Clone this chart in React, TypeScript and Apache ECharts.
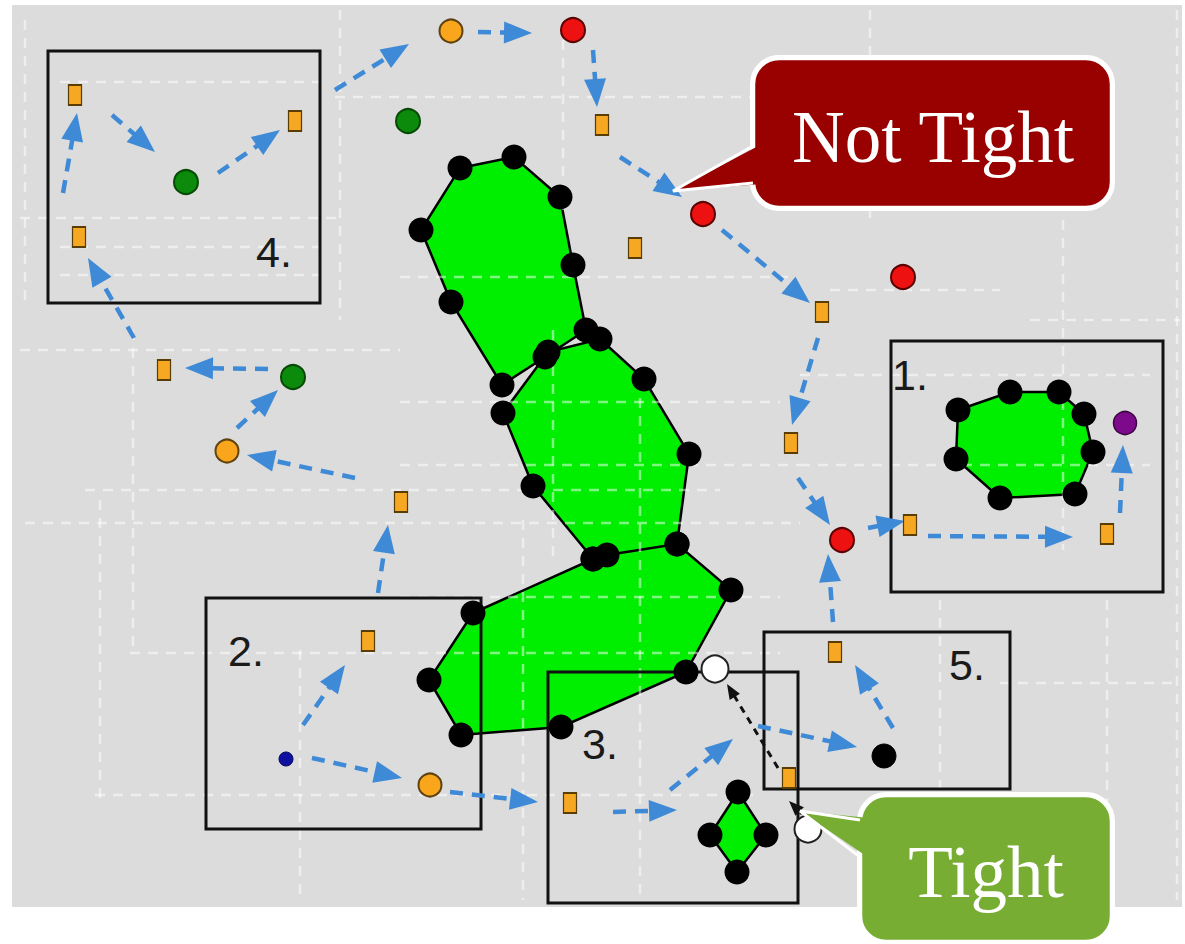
import React, { useEffect, useRef } from 'react';
import * as echarts from 'echarts';

// ---------------- data ----------------
const orangeSquares = [
  [75, 95], [79, 237], [295, 121], [602, 125], [635, 248], [822, 312], [791, 443],
  [910, 525], [1107, 534], [164, 370], [401, 502], [368, 641], [570, 803], [835, 652], [789, 778],
];
const orangeCircles = [[451, 31], [227, 451], [430, 785]];
const redCircles = [[573, 30], [703, 214], [903, 277], [842, 540]];
const greenCircles = [[408, 121], [186, 182], [293, 377]];
const purpleCircles = [[1125, 423]];
const blueDots = [[286, 759]];
const blackNodes = [[884, 756]];
const whiteNodes = [[715, 669], [808, 829]];

const polyA = [[460, 168], [514, 157], [560, 197], [573, 265], [586, 330], [545, 357], [502, 385], [451, 302], [421, 230]];
const polyB = [[600, 339], [644, 379], [689, 454], [677, 544], [593, 559], [533, 486], [503, 413], [548, 352]];
const polyC = [[473, 613], [593, 559], [607, 555], [677, 544], [731, 590], [686, 672], [561, 727], [461, 735], [429, 680]];
const polyD = [[958, 410], [1010, 392], [1059, 392], [1084, 414], [1093, 452], [1075, 494], [1000, 498], [956, 459]];
const polyE = [[738, 792], [766, 835], [737, 872], [710, 835]];
const polygons = [polyA, polyB, polyC, polyD, polyE];

const boxes = [
  [891, 341, 1163, 592],
  [206, 598, 481, 829],
  [548, 672, 798, 903],
  [48, 51, 320, 303],
  [764, 632, 1010, 789],
];
const boxLabels = ['1.', '2.', '3.', '4.', '5.'];
const boxLabelPos = [[892, 375], [228, 651], [582, 744], [256, 252], [949, 665]];

// flow edges: [fromX, fromY, arrowTipX, arrowTipY]
const flowEdges = [
  [63, 193, 77, 113],
  [112, 115, 155, 152],
  [218, 173, 280, 130],
  [335, 90, 409, 44],
  [478, 32, 532, 33],
  [593, 50, 597, 107],
  [620, 157, 682, 197],
  [722, 230, 810, 303],
  [818, 338, 792, 425],
  [798, 478, 830, 525],
  [868, 528, 905, 521],
  [928, 536, 1073, 537],
  [1120, 513, 1123, 445],
  [833, 622, 828, 554],
  [893, 728, 855, 665],
  [758, 726, 857, 747],
  [613, 812, 677, 810],
  [670, 790, 733, 739],
  [303, 725, 345, 665],
  [312, 758, 402, 778],
  [450, 792, 538, 802],
  [378, 593, 388, 525],
  [355, 478, 247, 455],
  [237, 428, 278, 390],
  [268, 369, 185, 368],
  [134, 338, 88, 258],
];
const tightEdges = [
  [778, 768, 727, 684],
  [802, 814, 789, 801],
];

// background dashed grid segments [x1, y1, x2, y2]
const gridLines = [
  [60, 82, 320, 82], [335, 97, 760, 97], [20, 218, 340, 218], [60, 247, 320, 247],
  [60, 275, 320, 275], [400, 277, 790, 277], [830, 290, 1000, 290], [20, 350, 400, 350],
  [400, 402, 780, 402], [400, 465, 800, 465], [85, 490, 720, 490], [25, 523, 800, 523],
  [800, 375, 1150, 375], [800, 465, 1150, 465], [400, 597, 780, 597], [130, 653, 780, 653],
  [95, 795, 760, 795], [1000, 683, 1180, 683], [1030, 320, 1180, 320],
  [25, 20, 25, 300], [340, 10, 340, 320], [133, 330, 133, 650], [100, 500, 100, 800],
  [300, 650, 300, 900], [563, 40, 563, 210], [553, 330, 553, 560], [523, 520, 523, 900],
  [640, 380, 640, 900], [870, 10, 870, 220], [1063, 220, 1063, 550], [1107, 600, 1107, 900],
  [1177, 10, 1177, 900], [940, 600, 940, 900],
];

// ---------------- helpers ----------------
const coordEncode = { x: [0, 2], y: [1, 3] };

function makeEdgeRender(color: string, width: number, dash: number[], headLen: number, headW: number) {
  return (params: any, api: any) => {
    const p1 = api.coord([api.value(0), api.value(1)]);
    const p2 = api.coord([api.value(2), api.value(3)]);
    const dx = p2[0] - p1[0];
    const dy = p2[1] - p1[1];
    const len = Math.hypot(dx, dy) || 1;
    const ux = dx / len;
    const uy = dy / len;
    const bx = p2[0] - ux * headLen;
    const by = p2[1] - uy * headLen;
    const nx = -uy;
    const ny = ux;
    return {
      type: 'group',
      children: [
        {
          type: 'line',
          shape: { x1: p1[0], y1: p1[1], x2: bx + ux * 2, y2: by + uy * 2 },
          style: { stroke: color, lineWidth: width, lineDash: dash, fill: null },
        },
        {
          type: 'polygon',
          shape: {
            points: [
              [p2[0], p2[1]],
              [bx + (nx * headW) / 2, by + (ny * headW) / 2],
              [bx - (nx * headW) / 2, by - (ny * headW) / 2],
            ],
          },
          style: { fill: color },
        },
      ],
    };
  };
}

function nodeSeries(data: number[][], symbol: string, size: any, color: string, border: string, bw: number) {
  return {
    type: 'scatter',
    data,
    symbol,
    symbolSize: size,
    silent: true,
    z: 6,
    itemStyle: { color, borderColor: border, borderWidth: bw, opacity: 1 },
  };
}

function calloutGraphic(
  rect: number[], tail: number[][], fill: string, text: string, textPos: number[]
) {
  const [x, y, w, h] = rect;
  const tailFill = [
    [tail[0][0] + 9, tail[0][1] - 2],
    tail[1],
    [tail[2][0] + 9, tail[2][1] + 1],
  ];
  return [
    { type: 'rect', z: 100, shape: { x, y, width: w, height: h, r: 26 }, style: { fill, stroke: '#ffffff', lineWidth: 6 } },
    { type: 'rect', z: 101, shape: { x: x + 3, y: y + 3, width: w - 6, height: h - 6, r: 23 }, style: { fill: 'none', stroke: fill, lineWidth: 1.5 } },
    { type: 'polygon', z: 102, shape: { points: tailFill }, style: { fill } },
    { type: 'polyline', z: 103, shape: { points: tail }, style: { stroke: '#ffffff', lineWidth: 3, fill: 'none' } },
    {
      type: 'text', z: 104,
      style: {
        text, x: textPos[0], y: textPos[1], fill: '#ffffff', fontSize: 73,
        fontFamily: '"Liberation Serif", "Times New Roman", serif', align: 'center', verticalAlign: 'middle',
      },
    },
  ];
}

export default function App() {
  const ref = useRef<HTMLDivElement>(null);

  useEffect(() => {
    if (!ref.current) return;
    const chart = echarts.init(ref.current, null, { renderer: 'svg' });

    const vertexDots: number[][] = [];
    polygons.forEach((p) => p.forEach((pt) => vertexDots.push(pt)));

    const option: any = {
      animation: false,
      backgroundColor: '#ffffff',
      grid: {
        show: true, left: 12, top: 5, width: 1170, height: 902,
        backgroundColor: '#dcdcdc', borderWidth: 0,
      },
      xAxis: { type: 'value', min: 12, max: 1182, show: false },
      yAxis: { type: 'value', min: 5, max: 907, inverse: true, show: false },
      series: [
        {
          type: 'custom', name: 'regions', z: 2, silent: true, clip: false,
          data: polygons.map((_, i) => [i]),
          renderItem: (params: any, api: any) => {
            const poly = polygons[api.value(0)];
            return {
              type: 'polygon',
              shape: { points: poly.map((pt) => api.coord(pt)) },
              style: { fill: '#00ee00', stroke: '#000000', lineWidth: 2.5 },
            };
          },
        },
        {
          type: 'custom', name: 'grid', z: 3, silent: true, clip: false,
          data: gridLines, encode: coordEncode,
          renderItem: (params: any, api: any) => {
            const p1 = api.coord([api.value(0), api.value(1)]);
            const p2 = api.coord([api.value(2), api.value(3)]);
            return {
              type: 'line',
              shape: { x1: p1[0], y1: p1[1], x2: p2[0], y2: p2[1] },
              style: { stroke: 'rgba(255,255,255,0.5)', lineWidth: 2.5, lineDash: [10, 8], fill: null },
            };
          },
        },
        {
          type: 'custom', name: 'boxes', z: 4, silent: true, clip: false,
          data: boxes.map((b, i) => [...b, i]), encode: coordEncode,
          renderItem: (params: any, api: any) => {
            const p1 = api.coord([api.value(0), api.value(1)]);
            const p2 = api.coord([api.value(2), api.value(3)]);
            const idx = api.value(4);
            const lp = api.coord(boxLabelPos[idx]);
            return {
              type: 'group',
              children: [
                {
                  type: 'rect',
                  shape: { x: p1[0], y: p1[1], width: p2[0] - p1[0], height: p2[1] - p1[1] },
                  style: { fill: 'none', stroke: '#111111', lineWidth: 3 },
                },
                {
                  type: 'text',
                  style: {
                    text: boxLabels[idx], x: lp[0], y: lp[1], fill: '#1a1a1a', fontSize: 43,
                    fontFamily: '"Liberation Sans", Arial, sans-serif', align: 'left', verticalAlign: 'middle',
                  },
                },
              ],
            };
          },
        },
        {
          type: 'custom', name: 'flow', z: 5, silent: true, clip: false,
          data: flowEdges, encode: coordEncode,
          renderItem: makeEdgeRender('#3e8ad6', 4.5, [13, 9], 28, 22),
        },
        {
          type: 'custom', name: 'tight', z: 5, silent: true, clip: false,
          data: tightEdges, encode: coordEncode,
          renderItem: makeEdgeRender('#111111', 3, [7, 6], 15, 12),
        },
        nodeSeries(orangeSquares, 'rect', [13, 20], '#f7a823', '#5a3c05', 1.5),
        nodeSeries(orangeCircles, 'circle', 23, '#f9a61c', '#5e4210', 2),
        nodeSeries(redCircles, 'circle', 24, '#ee1111', '#5a0000', 2),
        nodeSeries(greenCircles, 'circle', 24, '#0b8a0b', '#064a06', 2),
        nodeSeries(purpleCircles, 'circle', 23, '#7d0a8a', '#3d0545', 1.5),
        nodeSeries(blueDots, 'circle', 14, '#1010a0', '#08085a', 1),
        nodeSeries(blackNodes, 'circle', 24, '#000000', '#000000', 1),
        nodeSeries(whiteNodes, 'circle', 27, '#ffffff', '#222222', 2),
        nodeSeries(vertexDots, 'circle', 25, '#000000', '#000000', 0),
      ],
      graphic: [
        ...calloutGraphic([753, 58, 359, 150], [[753, 146], [673, 191], [753, 183]], '#990000', 'Not Tight', [933, 137]),
        ...calloutGraphic([860, 795, 252, 147], [[860, 820], [800, 811], [860, 857]], '#78ad34', 'Tight', [986, 872]),
      ],
    };

    chart.setOption(option);
    return () => chart.dispose();
  }, []);

  return (
    <div
      ref={ref}
      style={{ position: 'absolute', left: 0, top: 0, width: 1185, height: 944, background: '#ffffff' }}
    />
  );
}
